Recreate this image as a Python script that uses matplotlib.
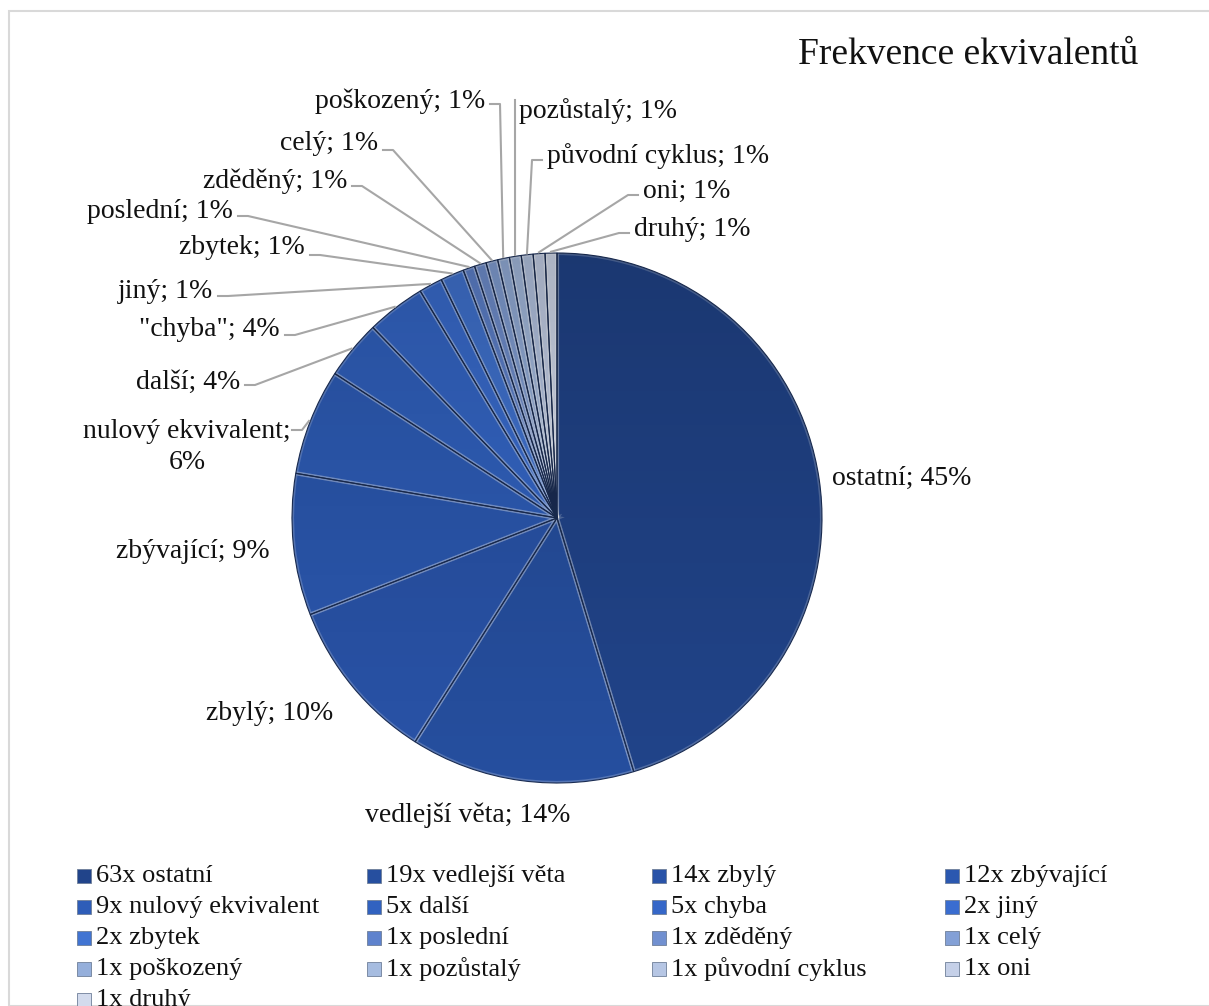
import numpy as np
import matplotlib.pyplot as plt
from matplotlib.patches import Rectangle, Circle

plt.rcParams['font.family'] = ['Liberation Serif', 'DejaVu Serif']

# frequencies of the equivalents
names = ['ostatní', 'vedlejší věta', 'zbylý', 'zbývající', 'nulový ekvivalent',
         'další', 'chyba', 'jiný', 'zbytek', 'poslední', 'zděděný', 'celý',
         'poškozený', 'pozůstalý', 'původní cyklus', 'oni', 'druhý']
label_names = ['ostatní', 'vedlejší věta', 'zbylý', 'zbývající', 'nulový ekvivalent',
               'další', '"chyba"', 'jiný', 'zbytek', 'poslední', 'zděděný', 'celý',
               'poškozený', 'pozůstalý', 'původní cyklus', 'oni', 'druhý']
counts = [63, 19, 14, 12, 9, 5, 5, 2, 2, 1, 1, 1, 1, 1, 1, 1, 1]

colors = ['#21448a', '#264f9f', '#2953a8', '#2b58b0', '#2e5db8', '#3162c0',
          '#3567c8', '#3a6dd0', '#4174d2', '#5e82cd', '#7190d0', '#83a0d6',
          '#95afdb', '#a6bce0', '#b6c6e4', '#c5d0e8', '#d3dbed']

W, H = 1209, 1006
CX, CY, R = 557, 518, 265   # pie centre and radius in pixels

# label placement in pixels: text x, text y, alignment, leader start (or None)
label_pos = [
    (832, 478, 'left', None),
    (468, 815, 'center', None),
    (333, 714, 'right', None),
    (270, 552, 'right', None),
    (187, 447, 'center', (292, 430)),
    (240, 382, 'right', (245, 385)),
    (280, 330, 'right', (285, 335)),
    (213, 291, 'right', (218, 296)),
    (305, 247, 'right', (310, 255)),
    (233, 211, 'right', (238, 216)),
    (347, 181, 'right', (352, 186)),
    (378, 143, 'right', (383, 150)),
    (485, 101, 'right', (490, 104)),
    (519, 111, 'left', (515, 100)),
    (547, 156, 'left', (542, 160)),
    (643, 191, 'left', (638, 195)),
    (634, 229, 'left', (629, 233)),
]


def to_data(px, py):
    return (px - CX) / R, (CY - py) / R


fig = plt.figure(figsize=(W / 100, H / 100), dpi=100)
fig.patches.append(Rectangle((9 / W, 0), 1.2, 1 - 11 / H, transform=fig.transFigure,
                             fill=False, edgecolor='#d9d9d9', linewidth=1.5))

ax = fig.add_axes([(CX - R) / W, (H - CY - R) / H, 2 * R / W, 2 * R / H])
ax.set_xlim(-1, 1)
ax.set_ylim(-1, 1)
ax.set_aspect('equal')
ax.axis('off')

wedges, _ = ax.pie(counts, colors=colors, startangle=90, counterclock=False,
                   radius=1, wedgeprops=dict(linewidth=0))

# bevel: light ridge with a dark seam on every slice edge
ax.pie(counts, colors=['none'] * len(counts), startangle=90, counterclock=False, radius=1,
       wedgeprops=dict(edgecolor='white', linewidth=3.0, alpha=0.22, fill=False))
ax.pie(counts, colors=['none'] * len(counts), startangle=90, counterclock=False, radius=1,
       wedgeprops=dict(edgecolor='#1a2c52', linewidth=0.8, fill=False))

# darker towards the bottom of the pie
grad = np.zeros((200, 2, 4))
grad[:, :, 3] = np.linspace(0.0, 0.18, 200)[:, None]
img = ax.imshow(grad, extent=[-1, 1, 1, -1], zorder=3, aspect='auto')
img.set_clip_path(Circle((0, 0), 1, transform=ax.transData))
ax.set_xlim(-1, 1)
ax.set_ylim(-1, 1)

total = sum(counts)
for w, name, n, (tx, ty, ha, lead) in zip(wedges, label_names, counts, label_pos):
    pct = round(100 * n / total)
    txt = f'{name}; {pct}%'
    if name == 'nulový ekvivalent':
        txt = f'{name};\n{pct}%'
    x, y = to_data(tx, ty)
    ax.text(x, y, txt, ha=ha, va='center', fontsize=20, color='#111111',
            multialignment='center', linespacing=1.35, clip_on=False, zorder=5)
    if lead is not None:
        mid = np.deg2rad((w.theta1 + w.theta2) / 2)
        rx, ry = np.cos(mid) * 1.005, np.sin(mid) * 1.005
        sx, sy = to_data(*lead)
        step = 10 / R if ha != 'left' else -10 / R
        if name == 'pozůstalý':
            step = 0
        ax.plot([sx, sx + step, rx], [sy, sy, ry], color='#a6a6a6', linewidth=1.5,
                clip_on=False, zorder=4)

fig.text(798 / W, 1 - 55 / H, 'Frekvence ekvivalentů', fontsize=27, ha='left',
         va='center', color='#111111')

# legend, four equal columns
col_x = [77, 367, 652, 945]
row_y0, row_dy = 876, 31
sq = 14
for i, (name, n, c) in enumerate(zip(names, counts, colors)):
    px = col_x[i % 4]
    py = row_y0 + row_dy * (i // 4)
    fig.patches.append(Rectangle((px / W, (H - py - sq / 2) / H), sq / W, sq / H,
                                 transform=fig.transFigure, facecolor=c,
                                 edgecolor='#6f7f99', linewidth=0.6))
    fig.text((px + sq + 5) / W, (H - py) / H, f'{n}x {name}', fontsize=19,
             ha='left', va='center', color='#111111')

fig.savefig('out.png', dpi=100, facecolor='white')
